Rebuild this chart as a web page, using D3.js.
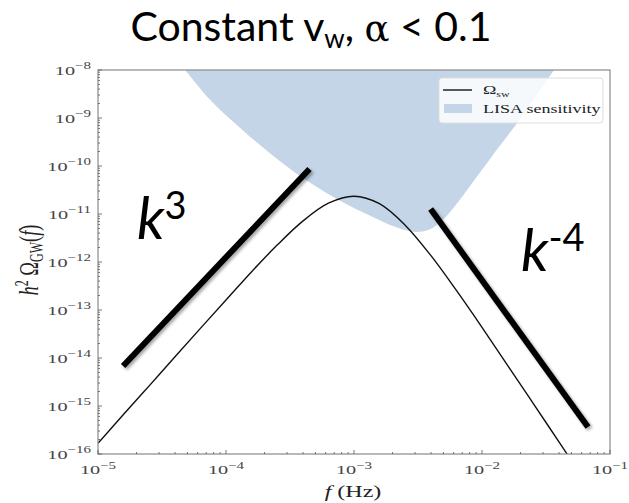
<!DOCTYPE html>
<html><head><meta charset="utf-8">
<script src="https://cdn.jsdelivr.net/npm/d3@7"></script>
<style>body{margin:0;background:#fff}</style>
</head><body>
<svg id="c" width="629" height="503"></svg>
<script>
// ---- data ----
const swFreq = [1e-5,1.58e-5,2.51e-5,3.98e-5,6.31e-5,1e-4,1.58e-4,2.51e-4,3.98e-4,6.31e-4,1e-3,1.58e-3,2.51e-3,3.98e-3,6.31e-3,1e-2,1.58e-2,2.51e-2,3.98e-2,6.31e-2];
const swOmega = [1.67e-16,6.63e-16,2.63e-15,1.05e-14,4.14e-14,1.62e-13,6.22e-13,2.25e-12,7.10e-12,1.68e-11,2.35e-11,1.64e-11,5.86e-12,1.37e-12,2.56e-13,4.36e-14,7.10e-15,1.14e-15,1.81e-16,2.88e-17];
const lisaFreq = [4.80e-5,7.53e-5,1.29e-4,2.34e-4,4.33e-4,7.83e-4,1.35e-3,2.11e-3,3.03e-3,3.97e-3,4.93e-3,6.24e-3,8.17e-3,1.17e-2,2.01e-2,3.65e-2];
const lisaOmega = [1e-8,2.37e-9,6.19e-10,1.62e-10,4.87e-11,1.87e-11,9.08e-12,5.36e-12,4.22e-12,4.87e-12,7.50e-12,1.54e-11,4.02e-11,1.47e-10,1e-9,1e-8];
const k3Freq = [1.57e-5,4.49e-4];
const k3Omega = [6.81e-15,8.66e-11];
const km4Freq = [3.97e-3,6.73e-2];
const km4Omega = [1.27e-11,3.65e-16];
const xTickExp = [-5,-4,-3,-2,-1];
const yTickExp = [-16,-15,-14,-13,-12,-11,-10,-9,-8];
const legendLabels = ["sw","LISA sensitivity"];

const svg = d3.select("#c");
const L=98,R=610,T=70,B=454;
const SX=1.5; // the embedded chart picture is stretched horizontally
const x = d3.scaleLog().domain([1e-5,1e-1]).range([L,R]);
const y = d3.scaleLog().domain([1e-16,1e-8]).range([B,T]);

const defs = svg.append("defs");
defs.append("clipPath").attr("id","clip").append("rect").attr("x",L).attr("y",T).attr("width",R-L).attr("height",B-T);
const f = defs.append("filter").attr("id","sh").attr("x","-20%").attr("y","-20%").attr("width","140%").attr("height","140%");
f.append("feDropShadow").attr("dx",2).attr("dy",2).attr("stdDeviation",1.5).attr("flood-color","#000").attr("flood-opacity",0.35);

// title
const title = svg.append("text").attr("x",311).attr("y",41).attr("text-anchor","middle")
  .attr("font-family","Lato, 'Open Sans', sans-serif").attr("font-size",41).attr("fill","#000");
title.append("tspan").text("Constant v");
title.append("tspan").attr("font-size",26).attr("dy",7).text("w");
title.append("tspan").attr("dy",-7).text(", ");
title.append("tspan").attr("font-family","'DejaVu Serif', serif").attr("font-size",37).text("α");
title.append("tspan").text(" < 0.1");

const plot = svg.append("g").attr("clip-path","url(#clip)");
const area = d3.area().x(d=>x(d[0])).y0(y(1e-8)).y1(d=>y(d[1])).curve(d3.curveCatmullRom);
plot.append("path").datum(d3.zip(lisaFreq,lisaOmega)).attr("d",area).attr("fill","#c4d5e8");
const line = d3.line().x(d=>x(d[0])).y(d=>y(d[1])).curve(d3.curveCatmullRom);
plot.append("path").datum(d3.zip(swFreq,swOmega)).attr("d",line).attr("fill","none").attr("stroke","#111").attr("stroke-width",1.4);

// frame
svg.append("rect").attr("x",L).attr("y",T).attr("width",R-L).attr("height",B-T).attr("fill","none").attr("stroke","#8a8a8a").attr("stroke-width",1.2);

// ticks
const tickG = svg.append("g").attr("stroke","#555").attr("stroke-width",0.8);
for(let e=-5;e<=-1;e++){
  for(let m=1;m<10;m++){
    const v=m*Math.pow(10,e); if(v>1e-1*1.0001) break;
    const px=x(v), len=(m===1)?4:2;
    tickG.append("line").attr("x1",px).attr("x2",px).attr("y1",B).attr("y2",B-len);
  }
}
for(let e=-16;e<=-8;e++){
  for(let m=1;m<10;m++){
    const v=m*Math.pow(10,e); if(v>1e-8*1.0001) break;
    const py=y(v), len=(m===1)?4:2;
    tickG.append("line").attr("x1",L).attr("x2",L+len).attr("y1",py).attr("y2",py);
  }
}
const serif="'Liberation Serif','DejaVu Serif',serif";
function powLabel(g, e){
  const t=g.append("text").attr("font-family",serif).attr("font-size",13.5).attr("fill","#444");
  t.append("tspan").text("10");
  t.append("tspan").attr("dy",-5.5).attr("font-size",10).text("−"+(-e));
  return t;
}
xTickExp.forEach(e=>{
  const g=svg.append("g").attr("transform",`translate(${x(Math.pow(10,e))},474) scale(${SX},1)`);
  powLabel(g,e).attr("text-anchor","middle");
});
yTickExp.forEach(e=>{
  const g=svg.append("g").attr("transform",`translate(91,${y(Math.pow(10,e))+4.5}) scale(${SX},1)`);
  powLabel(g,e).attr("text-anchor","end");
});

// axis labels
const xl=svg.append("g").attr("transform",`translate(353,497) scale(${SX},1)`)
  .append("text").attr("text-anchor","middle").attr("font-family",serif).attr("font-size",16).attr("fill","#222");
xl.append("tspan").attr("font-style","italic").text("f");
xl.append("tspan").text(" (Hz)");
const yl=svg.append("g").attr("transform",`translate(38,260) rotate(-90) scale(1,${SX})`)
  .append("text").attr("text-anchor","middle").attr("font-family",serif).attr("font-size",18.5).attr("fill","#222");
yl.append("tspan").attr("font-style","italic").text("h");
yl.append("tspan").attr("dy",-7).attr("font-size",12).text("2");
yl.append("tspan").attr("dy",7).text(" Ω");
yl.append("tspan").attr("dy",3).attr("font-size",12).text("GW");
yl.append("tspan").attr("dy",-3).text("(");
yl.append("tspan").attr("font-style","italic").text("f");
yl.append("tspan").text(")");

// legend
const lg=svg.append("g");
lg.append("rect").attr("x",439).attr("y",78).attr("width",164).attr("height",45).attr("rx",3).attr("fill","#fff").attr("fill-opacity",0.85).attr("stroke","#ddd");
lg.append("line").attr("x1",443).attr("x2",472).attr("y1",90).attr("y2",90).attr("stroke","#222").attr("stroke-width",1.5);
const l1=lg.append("g").attr("transform",`translate(483,94) scale(${SX},1)`).append("text").attr("font-family",serif).attr("font-size",12).attr("fill","#222");
l1.append("tspan").text("Ω");
l1.append("tspan").attr("dy",3).attr("font-size",8).text(legendLabels[0]);
lg.append("rect").attr("x",444).attr("y",104).attr("width",28).attr("height",9).attr("fill","#c4d5e8");
lg.append("g").attr("transform",`translate(483,113) scale(${SX},1)`).append("text").attr("font-family",serif).attr("font-size",12).attr("fill","#222").text(legendLabels[1]);

// slope annotation lines
const ann = svg.append("g").attr("filter","url(#sh)");
const seg = d3.line().x(d=>x(d[0])).y(d=>y(d[1]));
ann.append("path").datum(d3.zip(k3Freq,k3Omega)).attr("d",seg).attr("stroke","#000").attr("stroke-width",6).attr("fill","none");
ann.append("path").datum(d3.zip(km4Freq,km4Omega)).attr("d",seg).attr("stroke","#000").attr("stroke-width",6).attr("fill","none");

// slope labels
const sans="Lato, 'Open Sans', sans-serif";
const k1=svg.append("text").attr("x",137).attr("y",239).attr("font-family",sans).attr("font-size",58).attr("fill","#000");
k1.append("tspan").attr("font-style","italic").text("k");
k1.append("tspan").attr("dy",-20).attr("font-size",38).text("3");
const k2=svg.append("text").attr("x",521).attr("y",271).attr("font-family",sans).attr("font-size",58).attr("fill","#000");
k2.append("tspan").attr("font-style","italic").text("k");
k2.append("tspan").attr("dy",-20).attr("font-size",38).text("-4");
</script>
</body></html>
